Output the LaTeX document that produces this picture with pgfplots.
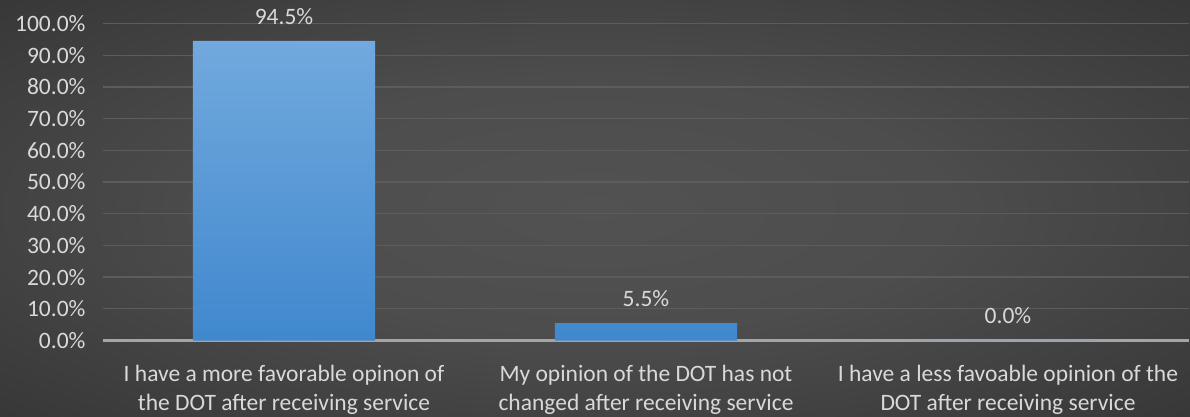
\documentclass[border=0pt]{standalone}
\usepackage{pgfplots}
\pgfplotsset{compat=1.18}
\usepackage{fontspec}
\setmainfont{Carlito}
\definecolor{txt}{RGB}{217,217,217}
\definecolor{gridc}{RGB}{92,92,92}
\definecolor{axc}{RGB}{165,165,165}
\definecolor{bartop}{RGB}{114,169,222}
\definecolor{barbot}{RGB}{64,136,206}
\definecolor{bgin}{RGB}{82,82,82}
\definecolor{bgout}{RGB}{30,30,30}
\pgfdeclareradialshading{bgshade}{\pgfpoint{0bp}{0bp}}{color(0bp)=(bgin);color(15bp)=(bgin!90!bgout);color(35bp)=(bgin!50!bgout);color(50bp)=(bgout)}
\begin{document}
\begin{tikzpicture}
\shade[shading=bgshade] (0,0) rectangle (1190bp,417bp);
\useasboundingbox (0,0) rectangle (1190bp,417bp);
\begin{axis}[
  at={(103bp,76.5bp)}, anchor=south west,
  scale only axis, width=1086bp, height=317bp,
  ymin=0, ymax=100, xmin=-0.5, xmax=2.5,
  ytick={0,10,...,100},
  xtick={0,1,2},
  xticklabels={{I have a more favorable opinon of\\the DOT after receiving service},
               {My opinion of the DOT has not\\changed after receiving service},
               {I have a less favoable opinion of the\\DOT after receiving service}},
  xticklabel style={align=center, font=\fontsize{23.5bp}{29bp}\selectfont, text=txt, yshift=-21bp},
  yticklabel style={font=\fontsize{23.5bp}{28bp}\selectfont, text=txt, xshift=-14bp},
  /pgf/number format/assume math mode=true,
  yticklabel={\pgfmathprintnumber[fixed,fixed zerofill,precision=1]{\tick}\%},
  major tick length=0pt,
  axis lines*=left,
  y axis line style={draw=none},
  x axis line style={draw=axc, line width=2bp, -},
  ymajorgrids, grid style={draw=gridc, line width=1.3bp},
  ybar, bar width=0.503,
  nodes near coords={\pgfmathprintnumber[fixed,fixed zerofill,precision=1]{\pgfplotspointmeta}\%},
  nodes near coords style={font=\fontsize{23.5bp}{28bp}\selectfont, text=txt, yshift=13bp},
  clip=false,
]
\addplot[draw=none, top color=bartop, bottom color=barbot] coordinates {(0,94.5) (1,5.5) (2,0)};
\end{axis}
\end{tikzpicture}
\end{document}
